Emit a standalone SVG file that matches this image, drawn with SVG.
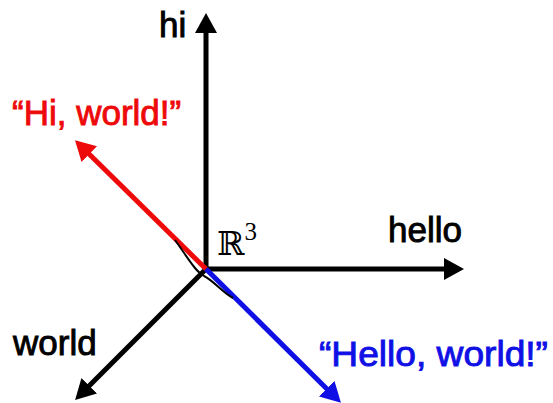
<svg xmlns="http://www.w3.org/2000/svg" width="553" height="403" viewBox="0 0 553 403">
<style>
.lbl{font-family:"Liberation Sans",Arial,sans-serif;font-size:35px;stroke-width:0.9px}
.ax{stroke-width:5;fill:none}
</style>
<defs>
<marker id="hk" markerUnits="userSpaceOnUse" markerWidth="22" markerHeight="24" refX="6" refY="11" orient="auto" viewBox="0 0 22 24"><path d="M0,0 L20,11 L0,22 z" fill="#000"/></marker>
<marker id="hr" markerUnits="userSpaceOnUse" markerWidth="22" markerHeight="24" refX="6" refY="11" orient="auto" viewBox="0 0 22 24"><path d="M0,0 L20,11 L0,22 z" fill="#ee0a0a"/></marker>
<marker id="hb" markerUnits="userSpaceOnUse" markerWidth="22" markerHeight="24" refX="6" refY="11" orient="auto" viewBox="0 0 22 24"><path d="M0,0 L20,11 L0,22 z" fill="#1010e6"/></marker>
</defs>
<rect width="553" height="403" fill="#fff"/>
<g id="connectors">
<line id="world-axis" class="ax" x1="206" y1="269" x2="85" y2="390" stroke="#000" marker-end="url(#hk)"/>
<line id="hi-axis" class="ax" x1="206" y1="271" x2="206" y2="27" stroke="#000" marker-end="url(#hk)"/>
<line id="hello-axis" class="ax" x1="204" y1="269" x2="450" y2="269" stroke="#000" marker-end="url(#hk)"/>
<line id="hi-world-vec" class="ax" x1="206" y1="269" x2="85" y2="150" stroke="#ee0a0a" marker-end="url(#hr)"/>
<line id="hello-world-vec" class="ax" x1="206" y1="269" x2="331" y2="393" stroke="#1010e6" marker-end="url(#hb)"/>
<path id="angle-arc" d="M175,240 C188,258 195,271 204,276 C214,281 222,292 233,298" stroke="#000" stroke-width="2" fill="none"/>
</g>
<g id="hi"><text class="lbl" x="159" y="37" fill="#000" stroke="#000">hi</text></g>
<g id="hello"><text class="lbl" x="388" y="242" fill="#000" stroke="#000">hello</text></g>
<g id="world"><text class="lbl" x="13" y="355" fill="#000" stroke="#000">world</text></g>
<g id="hi-world"><text class="lbl" x="12" y="125" fill="#ee0a0a" stroke="#ee0a0a">“Hi, world!”</text></g>
<g id="hello-world"><text class="lbl" x="319" y="366" fill="#1010e6" stroke="#1010e6" font-size="36" textLength="229" lengthAdjust="spacingAndGlyphs">“Hello, world!”</text></g>
<g id="r3"><text x="217" y="255" font-family="'DejaVu Serif','DejaVu Sans',serif" font-size="33" fill="#000">ℝ<tspan font-family="'Liberation Serif',serif" font-size="25" dy="-15">3</tspan></text></g>
</svg>
